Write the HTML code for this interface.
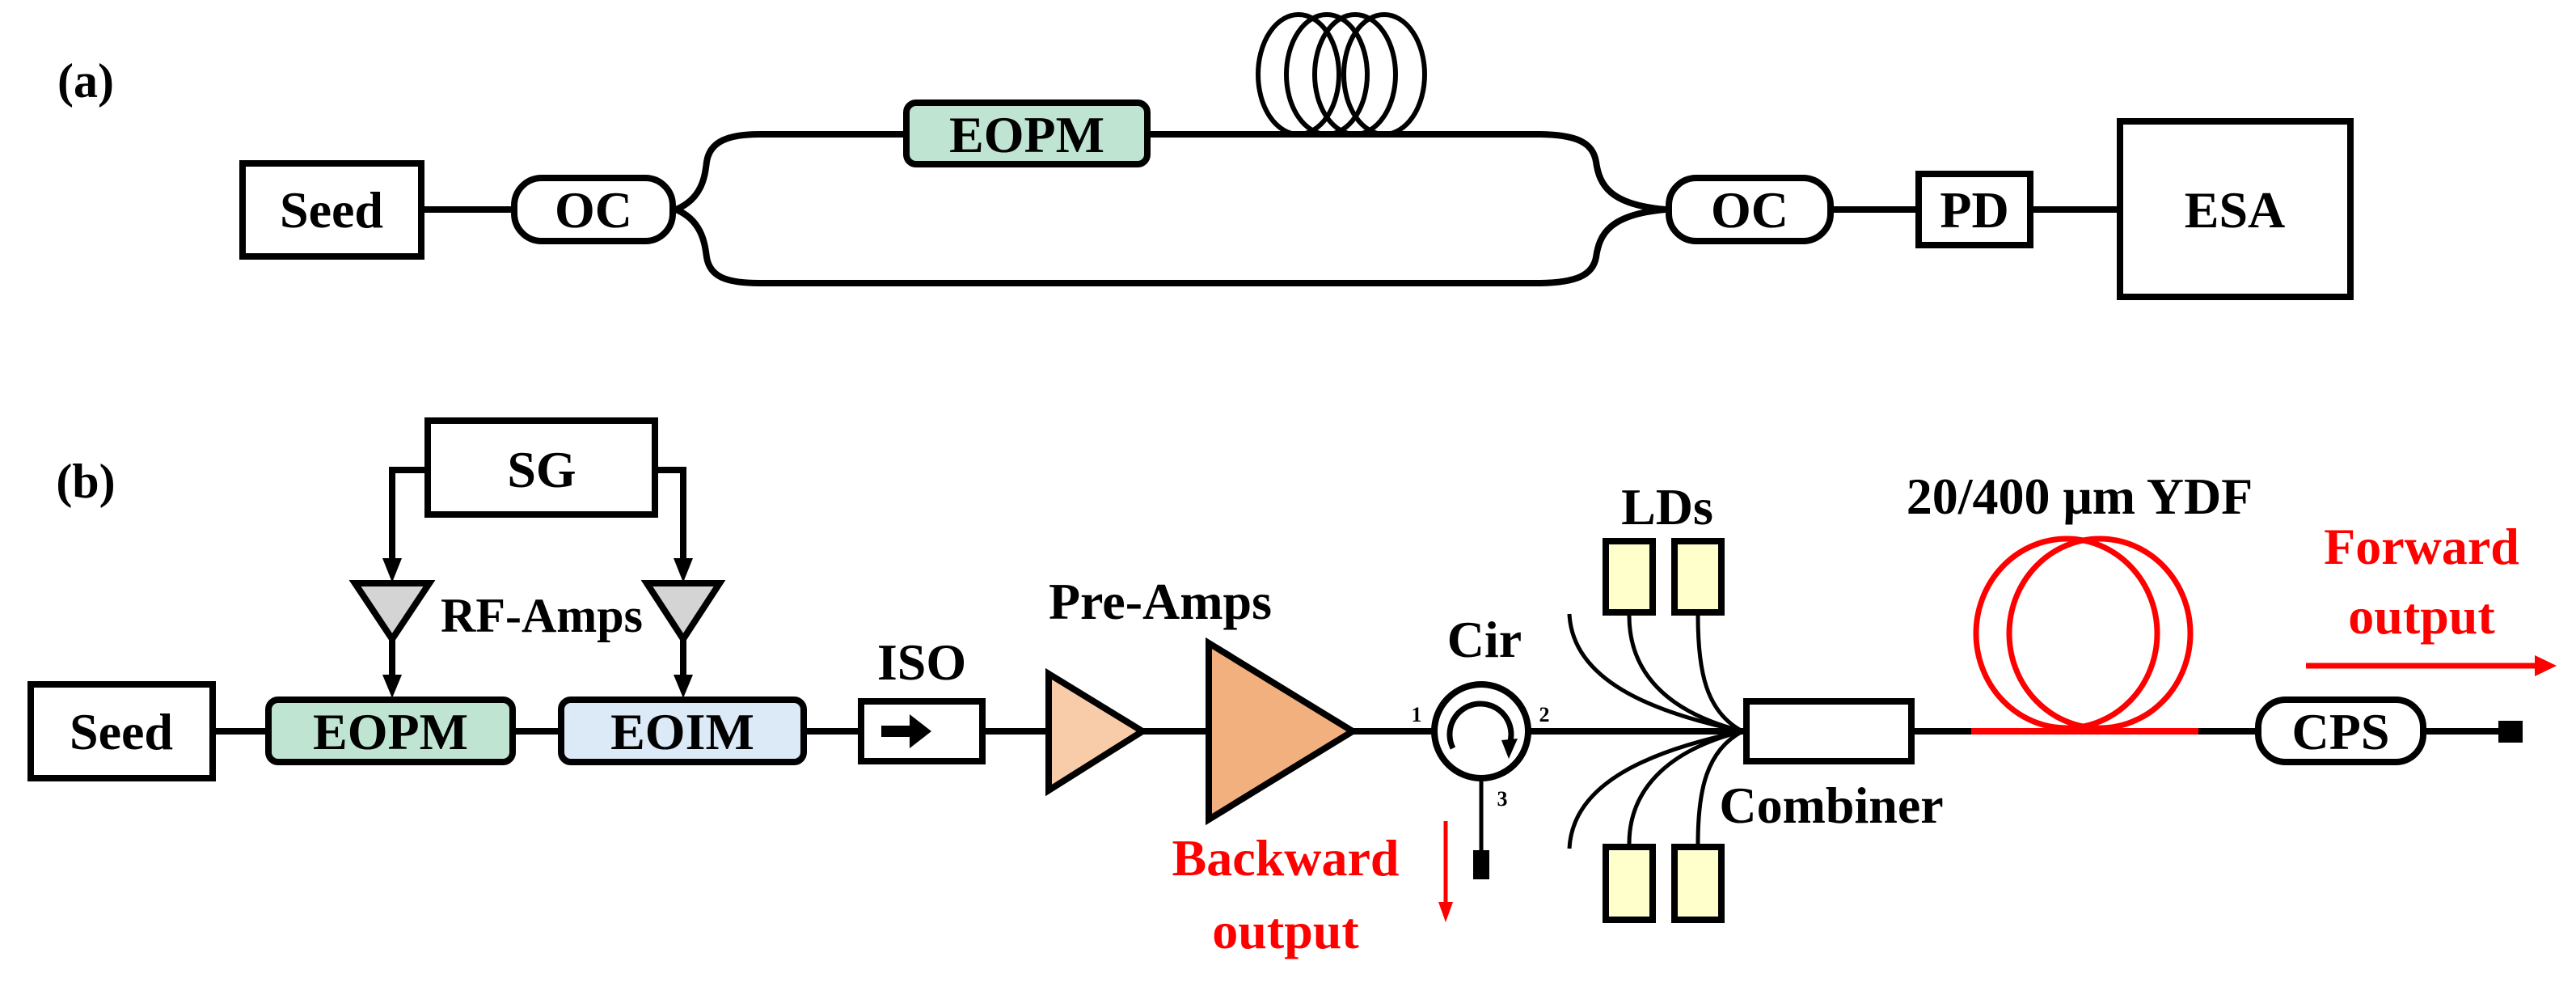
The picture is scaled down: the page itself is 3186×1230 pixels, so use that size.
<!DOCTYPE html>
<html><head><meta charset="utf-8"><style>
html,body{margin:0;padding:0;background:#fff;}
svg{display:block;}
svg text{font-family:"Liberation Serif","Times New Roman",Times,"DejaVu Serif",serif !important;font-weight:bold;}
</style></head><body>
<svg width="3186" height="1230" viewBox="0 0 3186 1230" xmlns="http://www.w3.org/2000/svg">
<g fill="none" stroke="#000" stroke-width="8">
<line x1="525" y1="259" x2="632" y2="259"/>
<path d="M836,259 C870,245 872,215 874,200 C878,175 900,166 940,166 L1117,166"/>
<path d="M836,259 C870,273 872,305 874,318 C878,343 900,350 940,350 L1900,350 C1950,350 1970,340 1974,318 C1978,290 1990,265 2060,259"/>
<path d="M1423,166 L1900,166 C1950,166 1970,176 1974,200 C1978,228 1990,253 2060,259"/>
<line x1="2268" y1="259" x2="2369" y2="259"/>
<line x1="2515" y1="259" x2="2618" y2="259"/>
</g>
<g fill="none" stroke="#000" stroke-width="6">
<ellipse cx="1606" cy="92" rx="50" ry="74"/>
<ellipse cx="1641" cy="92" rx="50" ry="74"/>
<ellipse cx="1676" cy="92" rx="50" ry="74"/>
<ellipse cx="1712" cy="92" rx="50" ry="74"/>
</g>
<line x1="1540" y1="166" x2="1780" y2="166" stroke="#000" stroke-width="8"/>
<g stroke="#000" stroke-width="8">
<rect x="300" y="202" width="221" height="115" fill="#fff"/>
<rect x="636" y="220" width="196" height="78" rx="34" fill="#fff"/>
<rect x="1121" y="127" width="298" height="76" rx="12" fill="#bfe4d2"/>
<rect x="2064" y="220" width="200" height="78" rx="34" fill="#fff"/>
<rect x="2373" y="215" width="138" height="88" fill="#fff"/>
<rect x="2622" y="150" width="285" height="217" fill="#fff"/>
</g>
<g font-size="64" text-anchor="middle">
<text x="106" y="120" font-size="60">(a)</text>
<text x="410" y="281">Seed</text>
<text x="734" y="281">OC</text>
<text x="1270" y="188">EOPM</text>
<text x="2164" y="281">OC</text>
<text x="2442" y="281">PD</text>
<text x="2764" y="281">ESA</text>
</g>

<g fill="none" stroke="#000" stroke-width="8">
<line x1="267" y1="904" x2="1293" y2="904"/>
<line x1="1413" y1="904" x2="1491" y2="904"/>
<line x1="1673" y1="904" x2="2156" y2="904"/>
<line x1="2368" y1="904" x2="2440" y2="904"/>
<line x1="2716" y1="904" x2="2792" y2="904"/>
<line x1="3001" y1="904" x2="3090" y2="904"/>
<polyline points="525,581 485,581 485,695"/>
<polyline points="814,581 845,581 845,695"/>
<line x1="485" y1="788" x2="485" y2="838"/>
<line x1="845" y1="788" x2="845" y2="838"/>
</g>
<g fill="#000">
<polygon points="473,690 497,690 485,720"/>
<polygon points="833,690 857,690 845,720"/>
<polygon points="473,834 497,834 485,863"/>
<polygon points="833,834 857,834 845,863"/>
</g>
<g stroke="#000" stroke-width="8" stroke-linejoin="miter">
<polygon points="439,721 531,721 485,790" fill="#d4d4d4"/>
<polygon points="800,721 890,721 845,790" fill="#d4d4d4"/>
<rect x="529" y="520" width="281" height="116" fill="#fff"/>
<rect x="38" y="846" width="225" height="116" fill="#fff"/>
<rect x="332" y="865" width="302" height="77" rx="12" fill="#bfe4d2"/>
<rect x="694" y="865" width="300" height="77" rx="12" fill="#dce9f6"/>
<rect x="1065" y="867" width="150" height="74" fill="#fff"/>
<polygon points="1297,833 1413,904 1297,977" fill="#f8cba9"/>
<polygon points="1495,795 1673,904 1495,1013" fill="#f2b07f"/>
</g>
<polygon points="1090,897 1125,897 1125,883 1152,904 1125,925 1125,911 1090,911" fill="#000"/>
<line x1="1832" y1="964" x2="1832" y2="1055" stroke="#000" stroke-width="5"/>
<rect x="1822" y="1051" width="20" height="36" fill="#000"/>
<circle cx="1832" cy="904" r="58" fill="#fff" stroke="#000" stroke-width="8"/>
<path d="M1797,925 A38,38 0 1 1 1867,920" fill="none" stroke="#000" stroke-width="7"/>
<polygon points="1857,915 1877,913 1866,938" fill="#000"/>
<g fill="none" stroke="#000" stroke-width="5">
<path d="M2155,904 C2040,880 1945,840 1941,759"/>
<path d="M2155,904 C2060,880 2015,830 2015,761"/>
<path d="M2155,904 C2110,880 2100,830 2100,761"/>
<path d="M2155,904 C2040,928 1945,968 1941,1049"/>
<path d="M2155,904 C2060,928 2015,978 2015,1043"/>
<path d="M2155,904 C2110,928 2100,978 2100,1043"/>
</g>
<g stroke="#000" stroke-width="8" fill="#ffffcc">
<rect x="1986" y="669" width="58" height="88"/>
<rect x="2071" y="669" width="58" height="88"/>
<rect x="1986" y="1047" width="58" height="90"/>
<rect x="2071" y="1047" width="58" height="90"/>
<rect x="2160" y="867" width="204" height="74" fill="#fff"/>
<rect x="2793" y="865" width="204" height="77" rx="34" fill="#fff"/>
</g>
<rect x="3090" y="891" width="30" height="27" fill="#000"/>
<g fill="none" stroke="#f00" stroke-width="7">
<ellipse cx="2556" cy="783" rx="112" ry="117"/>
<ellipse cx="2597" cy="783" rx="112" ry="117"/>
</g>
<line x1="2438" y1="904" x2="2719" y2="904" stroke="#f00" stroke-width="8"/>
<line x1="1788" y1="1015" x2="1788" y2="1120" stroke="#f00" stroke-width="5"/>
<polygon points="1779,1115 1797,1115 1788,1140" fill="#f00"/>
<line x1="2852" y1="823" x2="3140" y2="823" stroke="#f00" stroke-width="7"/>
<polygon points="3135,810 3162,823 3135,836" fill="#f00"/>
<g font-size="64" text-anchor="middle">
<text x="106" y="615" font-size="60">(b)</text>
<text x="670" y="602">SG</text>
<text x="670" y="781" font-size="60">RF-Amps</text>
<text x="150" y="926">Seed</text>
<text x="483" y="926">EOPM</text>
<text x="844" y="926">EOIM</text>
<text x="1140" y="840">ISO</text>
<text x="1435" y="765">Pre-Amps</text>
<text x="1836" y="812">Cir</text>
<text x="2062" y="648">LDs</text>
<text x="2572" y="635">20/400 μm YDF</text>
<text x="2265" y="1017">Combiner</text>
<text x="2895" y="926">CPS</text>
<text x="1590" y="1082" fill="#f00">Backward</text>
<text x="1590" y="1172" fill="#f00">output</text>
<text x="2995" y="697" fill="#f00">Forward</text>
<text x="2995" y="783" fill="#f00">output</text>
<text x="1752" y="892" font-size="26">1</text>
<text x="1910" y="892" font-size="26">2</text>
<text x="1858" y="996" font-size="26">3</text>
</g>
</svg>
</body></html>
